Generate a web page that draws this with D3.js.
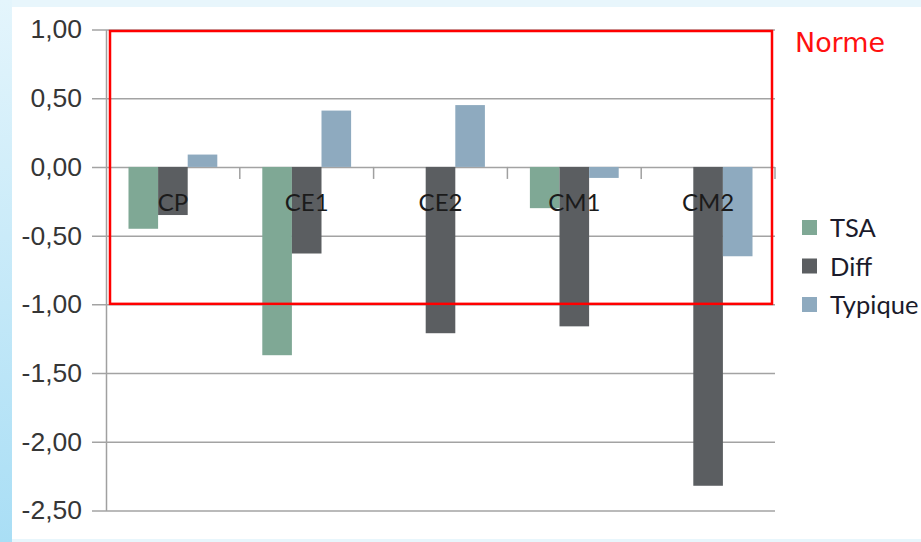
<!DOCTYPE html>
<html>
<head>
<meta charset="utf-8">
<script src="https://cdn.jsdelivr.net/npm/d3@7"></script>
<style>
  html, body { margin: 0; padding: 0; background: #ffffff; }
  svg { display: block; }
</style>
</head>
<body>
<svg id="chart" width="921" height="542"></svg>
<script>
// ---- data ----
const categories = ["CP", "CE1", "CE2", "CM1", "CM2"];
const seriesNames = ["TSA", "Diff", "Typique"];
const tsaValues = [-0.45, -1.37, 0, -0.30, 0];
const diffValues = [-0.35, -0.63, -1.21, -1.16, -2.32];
const typiqueValues = [0.09, 0.41, 0.45, -0.08, -0.65];
const yTicks = [1.0, 0.5, 0.0, -0.5, -1.0, -1.5, -2.0, -2.5];
const seriesColors = ["#7fa895", "#5b5e61", "#8eaabf"];
const boxLabel = "Norme";

const seriesValues = [tsaValues, diffValues, typiqueValues];

const svg = d3.select("#chart");
const W = 921, H = 542;

// ---- background ----
const defs = svg.append("defs");
const lg = defs.append("linearGradient").attr("id", "leftband")
  .attr("x1", 0).attr("y1", 0).attr("x2", 0).attr("y2", 1);
lg.append("stop").attr("offset", "0%").attr("stop-color", "#e4f5fc");
lg.append("stop").attr("offset", "100%").attr("stop-color", "#a9def5");
svg.append("rect").attr("x", 0).attr("y", 0).attr("width", W).attr("height", H).attr("fill", "#e8f6fc");
svg.append("rect").attr("x", 0).attr("y", 0).attr("width", 12).attr("height", H).attr("fill", "url(#leftband)");
svg.append("rect").attr("x", 12).attr("y", 7).attr("width", W - 12).attr("height", H - 10).attr("fill", "#ffffff");

// ---- scales ----
const plotLeft = 106, plotRight = 775;
const x0 = d3.scaleBand().domain(categories).range([plotLeft, plotRight]).padding(0);
const x1 = d3.scaleBand().domain(seriesNames).range([0, x0.bandwidth()]).paddingInner(0).paddingOuter(0.76);
const y = d3.scaleLinear().domain([-2.5, 1]).range([510.5, 29.5]);

const locale = d3.formatLocale({ decimal: ",", thousands: " ", grouping: [3], currency: ["", "€"], minus: "-" });
const fmt = locale.format(".2f");

// ---- y axis with gridlines ----
const yAxis = d3.axisLeft(y).tickValues(yTicks).tickFormat(fmt).tickSizeOuter(0).tickSizeInner(14).tickPadding(10);
const gy = svg.append("g").attr("transform", `translate(${plotLeft},0)`).call(yAxis);
gy.select(".domain").attr("stroke", "#a0a0a0").attr("stroke-width", 1.5);
gy.selectAll(".tick line").attr("x1", -14).attr("x2", plotRight - plotLeft)
  .attr("stroke", "#a3a3a3").attr("stroke-width", 1.5);
gy.selectAll(".tick text")
  .attr("font-family", "'Liberation Sans', Arial, sans-serif")
  .attr("font-size", 26.5).attr("fill", "#363636");

// ---- category ticks on zero line ----
const catBounds = categories.slice(1).map(c => x0(c)).concat([plotRight]);
svg.append("g").selectAll("line").data(catBounds).join("line")
  .attr("x1", d => d).attr("x2", d => d)
  .attr("y1", y(0)).attr("y2", y(0) + 12)
  .attr("stroke", "#a0a0a0").attr("stroke-width", 1.5);

// ---- bars ----
const groups = svg.append("g").selectAll("g").data(categories).join("g")
  .attr("transform", c => `translate(${x0(c)},0)`);
groups.selectAll("rect")
  .data((c, ci) => seriesNames.map((s, si) => ({ s, si, v: seriesValues[si][ci] })))
  .join("rect")
  .attr("x", d => x1(d.s))
  .attr("width", x1.bandwidth())
  .attr("y", d => y(Math.max(0, d.v)))
  .attr("height", d => Math.abs(y(d.v) - y(0)))
  .attr("fill", d => seriesColors[d.si]);

// ---- category labels (over bars) ----
svg.append("g").selectAll("text").data(categories).join("text")
  .attr("x", c => x0(c) + x0.bandwidth() / 2)
  .attr("y", 210.5)
  .attr("text-anchor", "middle")
  .attr("font-family", "Lato, 'Open Sans', sans-serif")
  .attr("font-size", 24)
  .attr("fill", "#1b1b1b")
  .text(c => c);

// ---- red "Norme" box (from 1 to -1) ----
svg.append("rect")
  .attr("x", 110).attr("y", y(1) + 1.5)
  .attr("width", 662).attr("height", y(-1) - y(1) - 2)
  .attr("fill", "none").attr("stroke", "#ff0000").attr("stroke-width", 2.5);
svg.append("text")
  .attr("x", 795).attr("y", 52)
  .attr("font-family", "'DejaVu Sans', sans-serif")
  .attr("font-size", 27)
  .attr("textLength", 90).attr("lengthAdjust", "spacingAndGlyphs")
  .attr("fill", "#ff1010")
  .text(boxLabel);

// ---- legend ----
const legend = svg.append("g").attr("transform", "translate(802,220)");
const li = legend.selectAll("g").data(seriesNames).join("g")
  .attr("transform", (d, i) => `translate(0,${i * 38.5})`);
li.append("rect").attr("x", 0).attr("y", 0).attr("width", 15).attr("height", 15)
  .attr("fill", (d, i) => seriesColors[i]);
li.append("text").attr("x", 28).attr("y", 17)
  .attr("font-family", "Lato, 'Open Sans', sans-serif")
  .attr("font-size", 25.5).attr("fill", "#1b1b2b")
  .text(d => d);
</script>
</body>
</html>
